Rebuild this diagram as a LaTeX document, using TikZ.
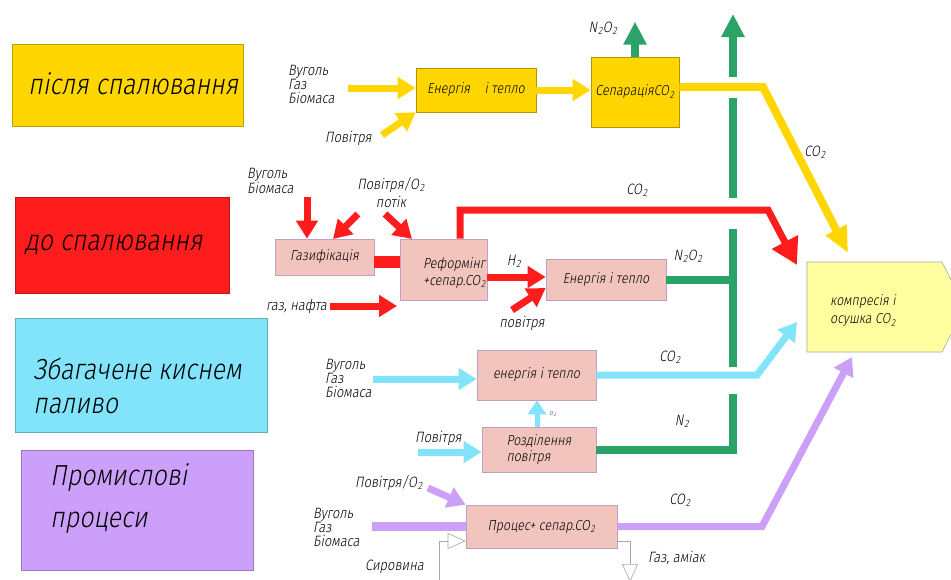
\documentclass[tikz,border=0pt]{standalone}
\usepackage{fontspec}
\setmainfont{Fira Sans Light}[FakeStretch=0.86, FakeSlant=0.18]
\usepackage{tikz}
\usetikzlibrary{arrows.meta}

\definecolor{gold}{RGB}{255,214,0}
\definecolor{redc}{RGB}{255,28,28}
\definecolor{cyanc}{RGB}{130,228,250}
\definecolor{purp}{RGB}{204,160,250}
\definecolor{pinkbox}{RGB}{242,196,190}
\definecolor{pinkedge}{RGB}{195,160,195}
\definecolor{greenc}{RGB}{42,162,104}
\definecolor{compfill}{RGB}{255,255,160}

\newcommand{\lowidx}[1]{\kern0.8pt\textsubscript{#1}}
\newcommand{\cotwo}{CO\lowidx{2}}

\begin{document}
\begin{tikzpicture}[x=1pt, y=-1pt,
	catbox/.style={fill=#1, draw=#1!75!black, line width=0.6pt, anchor=north west, inner sep=0pt},
	cattext/.style={anchor=west, align=left, inner sep=0pt, font=\fontsize{29}{34}\selectfont},
	unit/.style={fill=#1, draw=#1!70!black, line width=0.6pt, inner sep=1pt, font=\fontsize{14.5}{16}\selectfont},
	lbl/.style={inner sep=0pt, align=left, font=\fontsize{15}{14}\selectfont},
	pipe/.style={draw=#1, line width=7pt, -{Triangle[length=18pt, width=21pt]}},
	bar/.style={draw=#1, line width=8pt},
	feed/.style={draw=black!35, line width=0.6pt, -{Triangle[open, length=18pt, width=16pt]}}]

	\useasboundingbox (0,0) rectangle (951,579);

	% categories
	\node[catbox=gold, minimum width=231pt, minimum height=82pt] (post) at (12,44) {};
	\node[cattext] (posttxt) at (28,84) {після спалювання};
	\node[catbox=redc, minimum width=214pt, minimum height=96pt] (pre) at (15,197) {};
	\node[cattext] (pretxt) at (25,245) {до спалювання};
	\node[catbox=cyanc, minimum width=252pt, minimum height=114pt] (oxy) at (15,318) {};
	\node[cattext] (oxytxt) at (33,386) {Збагачене киснем\\паливо};
	\node[catbox=purp, minimum width=232pt, minimum height=120pt] (ind) at (21,450) {};
	\node[cattext, font=\fontsize{29}{42}\selectfont] (indtxt) at (50,499) {Промислові\\процеси};

	% after combustion
	\node[unit=gold, minimum width=120pt, minimum height=44pt] (en1) at (476,90) {Енергія\quad і тепло};
	\node[unit=gold, minimum width=88pt, minimum height=70pt] (sep) at (635,92) {Сепарація\cotwo};
	\node[lbl, anchor=north west] (fuel1) at (288,65) {Вуголь\\Газ\\Біомаса};
	\node[lbl, anchor=west] (air1) at (325,138) {Повітря};
	\node[lbl] (no1) at (603,28) {N\lowidx{2}O\lowidx{2}};
	\node[lbl] (co2a) at (815,152) {\cotwo};
	\coordinate (f1) at (348,88);
	\coordinate (a1) at (382,135);
	\coordinate (ytip) at (848,253);
	\draw[pipe=gold] (f1) -- (f1 -| en1.west);
	\draw[pipe=gold] (a1) -- (en1.south west);
	\draw[pipe=gold] (en1.east) -- (en1.east -| sep.west);
	\draw[pipe=greenc, line width=8pt, -{Triangle[length=23pt, width=22pt]}] (sep.north) -- ++(0,-35);
	\draw[pipe=gold, line width=8pt, -{Triangle[length=26pt, width=22pt]}] (sep.east |- 0,87) -- (763,87) -- (ytip);

	% green outlet
	\coordinate (g1) at (733,77);
	\coordinate (gtop) at (733,14);
	\draw[pipe=greenc, line width=8pt, -{Triangle[length=23pt, width=22pt]}] (g1) -- (gtop);
	\draw[bar=greenc] (733,98) -- (733,198);
	\draw[bar=greenc] (733,229) -- (733,367);

	% before combustion
	\node[unit=pinkbox, draw=pinkedge, minimum width=99pt, minimum height=36pt] (gas) at (324.5,257) {Газифікація};
	\node[unit=pinkbox, draw=pinkedge, minimum width=87pt, minimum height=61pt] (ref) at (443.5,269.5) {};
	\node[lbl, font=\fontsize{14.5}{17}\selectfont, anchor=east] (reftxt) at (486,273) {Реформінг\\+сепар.\cotwo};
	\node[unit=pinkbox, draw=pinkedge, minimum width=120pt, minimum height=41pt] (en2) at (606,279.5) {Енергія і тепло};
	\node[lbl, anchor=north west] (fuel2) at (247,168) {Вуголь\\Біомаса};
	\node[lbl, align=center, anchor=north] (ox2) at (391,177) {Повітря/O\lowidx{2}\\[3pt]потік};
	\node[lbl, anchor=east] (oil2) at (327,306) {газ, нафта};
	\node[lbl] (h2) at (514,261) {H\lowidx{2}};
	\node[lbl] (air2) at (522,323) {повітря};
	\node[lbl] (co2b) at (637,190) {\cotwo};
	\node[lbl] (no2) at (688,256) {N\lowidx{2}O\lowidx{2}};
	\coordinate (oiltip) at (397,306);
	\coordinate (rtip) at (797,265);
	\draw[pipe=redc] (307,197) -- (gas.north -| 307,0);
	\draw[pipe=redc] (358,214) -- (333,239);
	\draw[pipe=redc] (385,214) -- (412,239);
	\draw[bar=redc, line width=12pt] (gas.east |- 0,262) -- (ref.west |- 0,262);
	\draw[pipe=redc] (330,306) -- (oiltip);
	\draw[pipe=redc] (ref.east |- 0,277) -- (en2.west |- 0,277);
	\draw[pipe=redc] (512,310) -- (en2.west |- 0,288);
	\draw[pipe=redc, -{Triangle[length=26pt, width=28pt]}] (ref.north -| 460,0) |- (768,210) -- (rtip);
	\draw[bar=greenc] (en2.east) -- (en2.east -| 733,0);

	% oxy-fuel
	\node[unit=pinkbox, draw=pinkedge, minimum width=119pt, minimum height=50pt] (en3) at (536.5,375) {енергія і тепло};
	\node[unit=pinkbox, draw=pinkedge, minimum width=114pt, minimum height=45pt, align=left] (air) at (539,449.5) {Розділення\\повітря};
	\node[lbl, anchor=north west] (fuel3) at (325,359) {Вуголь\\Газ\\Біомаса};
	\node[lbl, anchor=west] (air3) at (415,438) {Повітря};
	\node[font=\fontsize{6}{7}\selectfont, inner sep=0pt] (o2) at (553,414) {O\lowidx{2}};
	\node[lbl] (co2c) at (670,357) {\cotwo};
	\node[lbl] (n2) at (682,421) {N\lowidx{2}};
	\coordinate (ctip) at (797,322);
	\draw[pipe=cyanc] (373,379) -- (en3.west |- 0,379);
	\draw[pipe=cyanc] (418,452) -- (air.west |- 0,452);
	\draw[pipe=cyanc, line width=5pt, -{Triangle[length=14pt, width=18pt]}] (air.north -| 537,0) -- (en3.south -| 537,0);
	\draw[pipe=cyanc] (en3.east) -- (757,375) -- (ctip);
	\draw[bar=greenc] (733,394) |- (air.east);

	% industry
	\node[unit=pinkbox, draw=pinkedge, minimum width=151pt, minimum height=43pt] (proc) at (541.5,526.5) {Процес+ сепар.\cotwo};
	\node[lbl, anchor=west] (ox4) at (355,483) {Повітря/O\lowidx{2}};
	\node[lbl, anchor=north west] (fuel4) at (313,508) {Вуголь\\Газ\\Біомаса};
	\node[lbl, anchor=west] (raw) at (365,567) {Сировина};
	\node[lbl, anchor=west] (prod) at (648,558) {Газ, аміак};
	\node[lbl] (co2d) at (680,500) {\cotwo};
	\coordinate (ptip) at (852,357);
	\draw[bar=purp, line width=9pt] (372,526.5) -- (proc.west);
	\draw[pipe=purp] (428,488) -- (proc.north west);
	\draw[pipe=purp] (proc.east) -- (762,526.5) -- (ptip);
	\draw[feed] (439,585) |- (proc.west |- 0,541);
	\draw[feed] (proc.east |- 0,541) -| (630,582);

	% compression
	\draw[fill=compfill, draw=black!35, line width=0.6pt] (807,262) -- (942,262) -- (965,307) -- (942,352) -- (807,352) -- cycle;
	\node[lbl, font=\fontsize{14.5}{18}\selectfont, anchor=west] (comp) at (830,311) {компресія і\\осушка \cotwo};
\end{tikzpicture}
\end{document}
